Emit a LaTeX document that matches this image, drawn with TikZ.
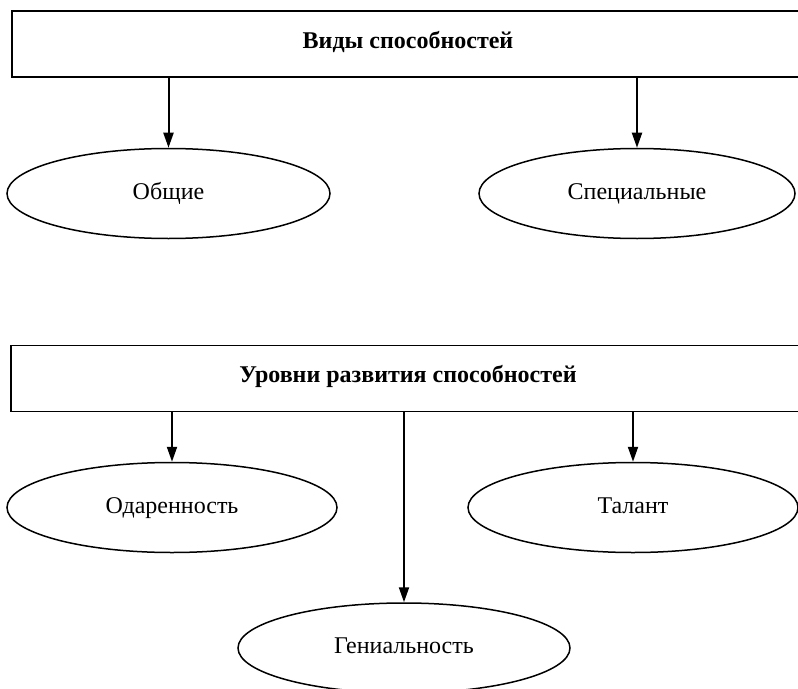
\documentclass[tikz,border=0pt]{standalone}
\usepackage{fontspec}
\setmainfont{Liberation Serif}
\usetikzlibrary{shapes.geometric,arrows.meta}
\begin{document}
\begin{tikzpicture}[x=1bp,y=-1bp,
  every node/.style={font=\fontsize{24bp}{28bp}\selectfont},
  topbox/.style={draw,line width=1.5bp,rectangle,inner sep=0pt,minimum width=800bp,minimum height=66bp},
  titletext/.style={font=\fontsize{24bp}{28bp}\selectfont\bfseries,anchor=base,inner sep=0pt},
  oval/.style={draw,line width=1.5bp,ellipse,inner sep=0pt,minimum height=90bp,text height=16bp,text depth=5bp},
  arr/.style={line width=2bp,-{Triangle[length=15bp,width=10bp]}}]
\useasboundingbox (0,0) rectangle (798,689);
\clip (0,0) rectangle (798,689);
\fill[white] (0,0) rectangle (798,689);
% first group
\node[topbox] (vid) at (412,44) {};
\node[titletext] (vidt) at (408,49) {Виды способностей};
\node[oval,minimum width=323bp] (obsh) at (168.5,193.5) {Общие};
\node[oval,minimum width=316bp] (spec) at (637,193.5) {Специальные};
\draw[arr] (vid.south -| obsh.north) -- (obsh.north);
\draw[arr] (vid.south -| spec.north) -- (spec.north);
% second group
\node[topbox] (urov) at (411,378.5) {};
\node[titletext] (urovt) at (408,382) {Уровни развития способностей};
\node[oval,minimum width=330bp] (odar) at (172,507.5) {Одаренность};
\node[oval,minimum width=330bp] (tal) at (633,507.5) {Талант};
\node[oval,minimum width=332bp] (gen) at (404,648) {Гениальность};
\draw[arr] (urov.south -| odar.north) -- (odar.north);
\draw[arr] (urov.south -| tal.north) -- (tal.north);
\draw[arr] (urov.south -| gen.north) -- (gen.north);
\end{tikzpicture}
\end{document}
